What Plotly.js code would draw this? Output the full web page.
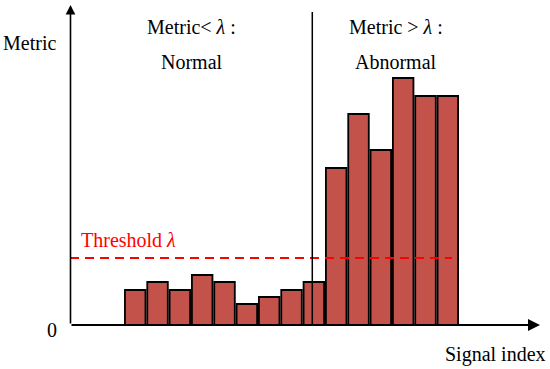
<!DOCTYPE html>
<html>
<head>
<meta charset="utf-8">
<script src="https://cdn.plot.ly/plotly-3.0.1.min.js"></script>
<style>html,body{margin:0;padding:0;background:#fff;}#chart{width:550px;height:369px;}</style>
</head>
<body>
<div id="chart"></div>
<script>
// ---- data ----
const signalIndex = [1,2,3,4,5,6,7,8,9,10,11,12,13,14,15];
const metricValues = [3.5, 4.3, 3.5, 5.0, 4.3, 2.1, 2.8, 3.5, 4.3, 15.7, 21.1, 17.5, 24.7, 22.9, 22.9];
const thresholdValue = 6.7;
const separatorIndex = 8.93;
const labels = {
  yTitle: "Metric",
  xTitle: "Signal index",
  zero: "0",
  normalHead: "Metric&lt; <i>λ</i> :",
  normal: "Normal",
  abnormalHead: "Metric &gt; <i>λ</i> :",
  abnormal: "Abnormal",
  threshold: "Threshold <i>λ</i>"
};

// ---- styling / layout ----
const W = 550, H = 369;
const FONT = "Liberation Serif, Times New Roman, serif";
const px = v => v / W;          // paper x from pixel
const py = v => 1 - v / H;      // paper y from pixel

const trace = {
  type: "bar",
  x: signalIndex,
  y: metricValues,
  width: 0.92,
  marker: { color: "#C2524A", line: { color: "#000000", width: 1.8 } },
  hoverinfo: "skip"
};

function txt(text, x, y, opts) {
  return Object.assign({
    xref: "paper", yref: "paper", x: px(x), y: py(y),
    text: text, showarrow: false, xanchor: "center", yanchor: "middle",
    font: { family: FONT, size: 20, color: "#000" }
  }, opts || {});
}

const layout = {
  width: W, height: H,
  margin: { l: 0, r: 0, t: 0, b: 0 },
  paper_bgcolor: "#fff", plot_bgcolor: "#fff",
  showlegend: false,
  bargap: 0,
  xaxis: { range: [-5.055, 19.575], visible: false, fixedrange: true },
  yaxis: { range: [-4.4, 32.5], visible: false, fixedrange: true },
  shapes: [
    // threshold dashed line
    { type: "line", xref: "paper", yref: "y", x0: px(70), x1: px(452),
      y0: thresholdValue, y1: thresholdValue,
      line: { color: "#FF0000", width: 2.2, dash: "9px,6px" } },
    // separator vertical line
    { type: "line", xref: "x", yref: "y", x0: separatorIndex, x1: separatorIndex,
      y0: 0, y1: 31.3, line: { color: "#000", width: 1.5 } }
  ],
  annotations: [
    // y axis arrow
    { xref: "paper", yref: "paper", x: px(70.5), y: py(5), text: "", showarrow: true,
      ax: 0, ay: 320, arrowhead: 2, arrowsize: 1.2, arrowwidth: 1.6, arrowcolor: "#000" },
    // x axis arrow
    { xref: "paper", yref: "y", x: px(540), y: 0, text: "", showarrow: true,
      ax: -470, ay: 0, arrowhead: 2, arrowsize: 1.2, arrowwidth: 2, arrowcolor: "#000" },
    txt(labels.yTitle, 29, 43),
    txt(labels.xTitle, 495.5, 354),
    txt(labels.zero, 51.7, 330),
    txt(labels.normalHead, 191.6, 27),
    txt(labels.normal, 191.6, 62),
    txt(labels.abnormalHead, 396, 27),
    txt(labels.abnormal, 396, 62),
    txt(labels.threshold, 79, 240, { xanchor: "left", font: { family: FONT, size: 20, color: "#FF0000" } })
  ]
};

Plotly.newPlot("chart", [trace], layout, { staticPlot: true, displayModeBar: false });
</script>
</body>
</html>
